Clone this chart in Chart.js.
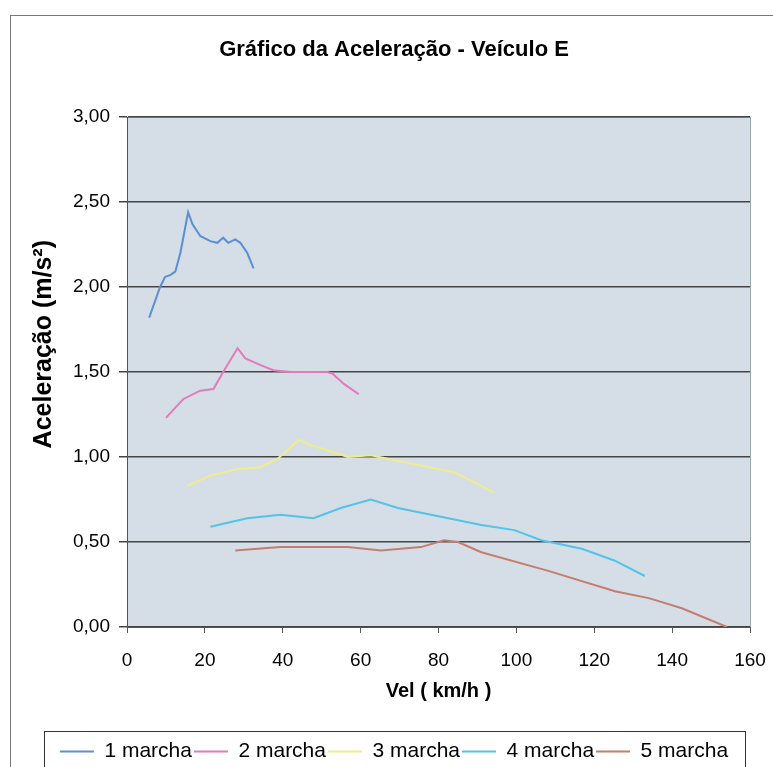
<!DOCTYPE html>
<html>
<head>
<meta charset="utf-8">
<script src="https://cdn.jsdelivr.net/npm/chart.js@4"></script>
<style>
  html, body { margin: 0; padding: 0; background: #fff; }
  #wrap { width: 773px; height: 767px; }
</style>
</head>
<body>
<div id="wrap"><canvas id="chart" width="773" height="767"></canvas></div>
<script>
// values (vel in km/h, acc in m/s2)
const seriesNames = ['1 marcha', '2 marcha', '3 marcha', '4 marcha', '5 marcha'];
const seriesColors = ['#5a8fd2', '#e47ab9', '#eeed8c', '#52c3ea', '#c47d6e'];

const vel1 = [5.7, 8.5, 9.8, 11.1, 12.4, 13.7, 15.7, 16.8, 18.8, 21.4, 23.2, 24.7, 26.0, 27.8, 29.1, 30.9, 32.5];
const acc1 = [1.82, 2.00, 2.06, 2.07, 2.09, 2.20, 2.44, 2.37, 2.30, 2.27, 2.26, 2.29, 2.26, 2.28, 2.26, 2.20, 2.11];

const vel2 = [10.0, 14.4, 18.8, 22.2, 24.7, 28.4, 30.4, 34.3, 37.6, 42.0, 47.2, 51.5, 52.8, 55.7, 59.5];
const acc2 = [1.23, 1.34, 1.39, 1.40, 1.50, 1.64, 1.58, 1.54, 1.51, 1.50, 1.50, 1.50, 1.49, 1.43, 1.37];

const vel3 = [15.5, 21.4, 28.4, 34.3, 38.7, 44.1, 47.2, 51.5, 56.7, 62.6, 67.0, 75.5, 84.0, 88.4, 94.3];
const acc3 = [0.83, 0.89, 0.93, 0.94, 0.99, 1.10, 1.07, 1.04, 1.00, 1.01, 0.99, 0.95, 0.91, 0.86, 0.79];

const vel4 = [21.4, 30.9, 39.4, 47.9, 54.9, 62.6, 69.6, 82.5, 91.0, 99.5, 106.4, 116.8, 125.3, 133.0];
const acc4 = [0.59, 0.64, 0.66, 0.64, 0.70, 0.75, 0.70, 0.64, 0.60, 0.57, 0.51, 0.46, 0.39, 0.30];

const vel5 = [27.8, 39.4, 56.7, 65.2, 75.5, 81.4, 85.0, 91.0, 108.2, 125.3, 134.0, 142.5, 154.1];
const acc5 = [0.45, 0.47, 0.47, 0.45, 0.47, 0.51, 0.50, 0.44, 0.33, 0.21, 0.17, 0.11, 0.00];

const xTicks = [0, 20, 40, 60, 80, 100, 120, 140, 160];
const yTicks = [0, 0.5, 1, 1.5, 2, 2.5, 3];

const vels = [vel1, vel2, vel3, vel4, vel5];
const accs = [acc1, acc2, acc3, acc4, acc5];

function toPoints(xs, ys) {
    return xs.map((x, i) => ({ x: x, y: ys[i] }));
}

// plot area background, outer frame and legend frame
const framePlugin = {
    id: 'frame',
    beforeDraw(chart) {
        const ctx = chart.ctx;
        const a = chart.chartArea;
        ctx.save();
        ctx.fillStyle = '#fff';
        ctx.fillRect(0, 0, chart.width, chart.height);
        ctx.strokeStyle = '#777';
        ctx.lineWidth = 1;
        ctx.strokeRect(10.5, 15.5, chart.width + 10, chart.height + 10);
        ctx.fillStyle = '#d5dee6';
        ctx.fillRect(a.left, a.top, a.right - a.left, a.bottom - a.top);
        ctx.strokeStyle = '#9aa';
        ctx.strokeRect(a.left + 0.5, a.top + 0.5, a.right - a.left, a.bottom - a.top);
        ctx.restore();
    },
    afterDraw(chart) {
        const ctx = chart.ctx;
        ctx.save();
        ctx.strokeStyle = '#333';
        ctx.lineWidth = 1;
        ctx.strokeRect(44.5, 731.5, 701, 60);
        ctx.restore();
    }
};

const ctx = document.getElementById('chart').getContext('2d');
const chart = new Chart(ctx, {
    type: 'scatter',
    data: {
        datasets: seriesNames.map((name, i) => ({
            label: name,
            data: toPoints(vels[i], accs[i]),
            showLine: true,
            borderColor: seriesColors[i],
            backgroundColor: seriesColors[i],
            borderWidth: 2,
            pointRadius: 0,
            tension: 0
        }))
    },
    options: {
        responsive: false,
        animation: false,
        layout: { padding: { left: 38, right: 23, top: 0, bottom: -5 } },
        plugins: {
            title: {
                display: true,
                text: 'Gráfico da Aceleração - Veículo E',
                color: '#000',
                font: { family: 'Liberation Sans', size: 22, weight: 'bold' },
                padding: { top: 37, bottom: 53.6 }
            },
            legend: {
                position: 'bottom',
                labels: {
                    color: '#000',
                    font: { family: 'Liberation Sans', size: 21 },
                    boxWidth: 34,
                    boxHeight: 2,
                    padding: 2,
                    generateLabels(chart) {
                        return chart.data.datasets.map((ds, i) => ({
                            text: ds.label,
                            fillStyle: ds.borderColor,
                            strokeStyle: ds.borderColor,
                            lineWidth: 0,
                            datasetIndex: i
                        }));
                    }
                }
            },
            tooltip: { enabled: false }
        },
        scales: {
            x: {
                type: 'linear',
                min: 0,
                max: 160,
                afterBuildTicks(scale) {
                    scale.ticks = xTicks.map(v => ({ value: v }));
                },
                afterFit(scale) {
                    scale.height = 112;
                    scale.paddingLeft = 0;
                    scale.paddingRight = 0;
                },
                grid: { drawOnChartArea: false, drawTicks: true, tickLength: 6, color: '#555' },
                border: { color: '#555' },
                ticks: {
                    color: '#000',
                    font: { family: 'Liberation Sans', size: 19 },
                    padding: 16
                },
                title: {
                    display: true,
                    text: 'Vel ( km/h )',
                    color: '#000',
                    font: { family: 'Liberation Sans', size: 20, weight: 'bold' },
                    padding: { top: 6, bottom: 36 }
                }
            },
            y: {
                type: 'linear',
                min: 0,
                max: 3,
                afterBuildTicks(scale) {
                    scale.ticks = yTicks.map(v => ({ value: v }));
                },
                afterFit(scale) { scale.width = 89; },
                grid: { color: '#444', lineWidth: 1.5, drawTicks: true, tickLength: 8 },
                border: { color: '#555' },
                ticks: {
                    color: '#000',
                    font: { family: 'Liberation Sans', size: 19 },
                    padding: 9,
                    callback: v => v.toFixed(2).replace('.', ',')
                },
                title: {
                    display: true,
                    text: '\u00A0\u00A0\u00A0\u00A0\u00A0\u00A0\u00A0\u00A0Aceleração (m/s²)',
                    color: '#000',
                    font: { family: 'Liberation Sans', size: 25, weight: 'bold' },
                    padding: { top: -9 }
                }
            }
        }
    },
    plugins: [framePlugin]
});
</script>
</body>
</html>
